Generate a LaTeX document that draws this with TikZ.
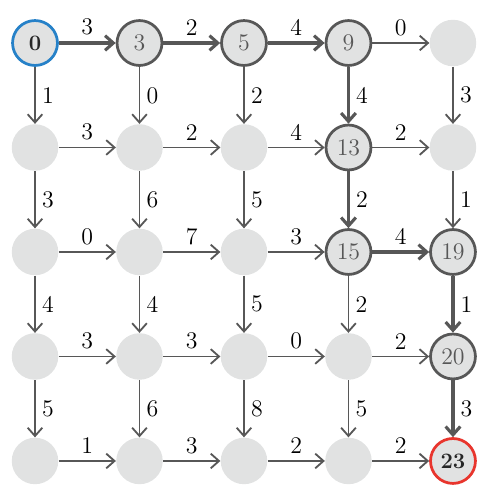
\documentclass[tikz,border=0pt]{standalone}
\usepackage{tikz}
\usetikzlibrary{arrows.meta}
\definecolor{linegray}{HTML}{575757}
\definecolor{fillgray}{HTML}{E1E2E2}
\definecolor{startblue}{HTML}{2681C8}
\definecolor{endred}{HTML}{E8352D}
\tikzset{
  vtx/.style={circle, fill=fillgray, minimum size=0.89cm, inner sep=0pt, text=linegray},
  pathvtx/.style={vtx, draw=linegray, line width=1.5pt, minimum size=0.86cm},
  edge/.style={->, draw=linegray, line width=1pt},
  pathedge/.style={->, draw=linegray, line width=1.7pt},
}

\begin{document}
\begin{tikzpicture}[>={Straight Barb[length=4.5pt,width=8pt]}, font=\fontsize{13}{15}\selectfont]
\useasboundingbox (-0.67,0.823) rectangle (8.708,-8.594);
% row 0
\node[pathvtx, draw=startblue, text=black!85] (n00) at (0,0) {$\mathbf{0}$};
\node[pathvtx] (n10) at (2,0) {3};
\node[pathvtx] (n20) at (4,0) {5};
\node[pathvtx] (n30) at (6,0) {9};
\node[vtx] (n40) at (8,0) {};
% row 1
\node[vtx] (n01) at (0,-2) {};
\node[vtx] (n11) at (2,-2) {};
\node[vtx] (n21) at (4,-2) {};
\node[pathvtx] (n31) at (6,-2) {13};
\node[vtx] (n41) at (8,-2) {};
% row 2
\node[vtx] (n02) at (0,-4) {};
\node[vtx] (n12) at (2,-4) {};
\node[vtx] (n22) at (4,-4) {};
\node[pathvtx] (n32) at (6,-4) {15};
\node[pathvtx] (n42) at (8,-4) {19};
% row 3
\node[vtx] (n03) at (0,-6) {};
\node[vtx] (n13) at (2,-6) {};
\node[vtx] (n23) at (4,-6) {};
\node[vtx] (n33) at (6,-6) {};
\node[pathvtx] (n43) at (8,-6) {20};
% row 4
\node[vtx] (n04) at (0,-8) {};
\node[vtx] (n14) at (2,-8) {};
\node[vtx] (n24) at (4,-8) {};
\node[vtx] (n34) at (6,-8) {};
\node[pathvtx, draw=endred, text=black!85] (n44) at (8,-8) {$\mathbf{23}$};
% horizontal edges
\draw[pathedge] (n00) -- (n10) node[midway, above]{3};
\draw[pathedge] (n10) -- (n20) node[midway, above]{2};
\draw[pathedge] (n20) -- (n30) node[midway, above]{4};
\draw[edge] (n30) -- (n40) node[midway, above]{0};
\draw[edge] (n01) -- (n11) node[midway, above]{3};
\draw[edge] (n11) -- (n21) node[midway, above]{2};
\draw[edge] (n21) -- (n31) node[midway, above]{4};
\draw[edge] (n31) -- (n41) node[midway, above]{2};
\draw[edge] (n02) -- (n12) node[midway, above]{0};
\draw[edge] (n12) -- (n22) node[midway, above]{7};
\draw[edge] (n22) -- (n32) node[midway, above]{3};
\draw[pathedge] (n32) -- (n42) node[midway, above]{4};
\draw[edge] (n03) -- (n13) node[midway, above]{3};
\draw[edge] (n13) -- (n23) node[midway, above]{3};
\draw[edge] (n23) -- (n33) node[midway, above]{0};
\draw[edge] (n33) -- (n43) node[midway, above]{2};
\draw[edge] (n04) -- (n14) node[midway, above]{1};
\draw[edge] (n14) -- (n24) node[midway, above]{3};
\draw[edge] (n24) -- (n34) node[midway, above]{2};
\draw[edge] (n34) -- (n44) node[midway, above]{2};
% vertical edges
\draw[edge] (n00) -- (n01) node[midway, right]{1};
\draw[edge] (n01) -- (n02) node[midway, right]{3};
\draw[edge] (n02) -- (n03) node[midway, right]{4};
\draw[edge] (n03) -- (n04) node[midway, right]{5};
\draw[edge] (n10) -- (n11) node[midway, right]{0};
\draw[edge] (n11) -- (n12) node[midway, right]{6};
\draw[edge] (n12) -- (n13) node[midway, right]{4};
\draw[edge] (n13) -- (n14) node[midway, right]{6};
\draw[edge] (n20) -- (n21) node[midway, right]{2};
\draw[edge] (n21) -- (n22) node[midway, right]{5};
\draw[edge] (n22) -- (n23) node[midway, right]{5};
\draw[edge] (n23) -- (n24) node[midway, right]{8};
\draw[pathedge] (n30) -- (n31) node[midway, right]{4};
\draw[pathedge] (n31) -- (n32) node[midway, right]{2};
\draw[edge] (n32) -- (n33) node[midway, right]{2};
\draw[edge] (n33) -- (n34) node[midway, right]{5};
\draw[edge] (n40) -- (n41) node[midway, right]{3};
\draw[edge] (n41) -- (n42) node[midway, right]{1};
\draw[pathedge] (n42) -- (n43) node[midway, right]{1};
\draw[pathedge] (n43) -- (n44) node[midway, right]{3};
\end{tikzpicture}
\end{document}
